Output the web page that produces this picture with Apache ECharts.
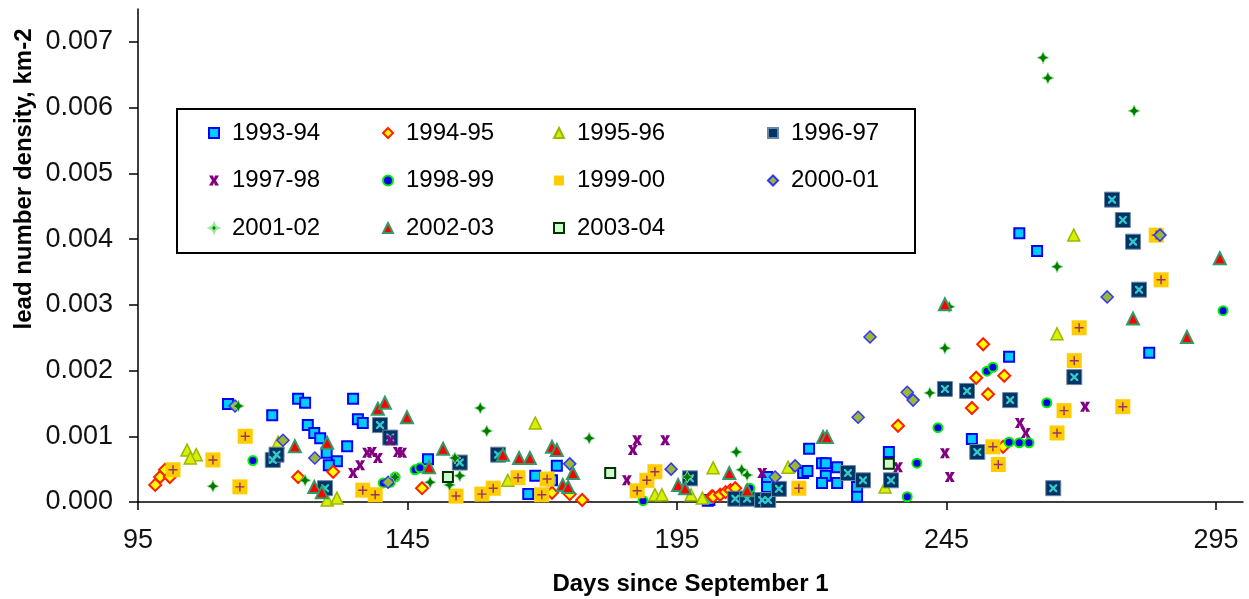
<!DOCTYPE html>
<html>
<head>
<meta charset="utf-8">
<script src="https://cdn.jsdelivr.net/npm/echarts@6/dist/echarts.min.js"></script>
<style>
html,body{margin:0;padding:0;background:#fff;}
#chart{width:1249px;height:599px;}
</style>
</head>
<body>
<div id="chart"></div>
<script>
// ---- data (x = days since September 1, y = lead number density, km-2) ----
const xTicks = [95, 145, 195, 245, 295];
const yTicks = [0, 0.001, 0.002, 0.003, 0.004, 0.005, 0.006, 0.007];
const seasons = ['1993-94','1994-95','1995-96','1996-97','1997-98','1998-99','1999-00','2000-01','2001-02','2002-03','2003-04'];

const s1993_94 = [[111.7,0.00149],[119.9,0.00132],[124.7,0.00157],[126.0,0.00151],[126.5,0.00117],[127.7,0.00105],[128.8,0.00097],[130.0,0.00075],[131.9,0.00062],[130.4,0.00056],[134.9,0.00157],[135.8,0.00126],[136.7,0.00120],[133.8,0.00085],[148.8,0.00065],[172.7,0.00055],[168.7,0.00040],[167.4,0.00012],[171.8,0.00033],[200.7,0.00002],[219.5,0.00081],[211.7,0.00023],[211.7,0.00038],[218.4,0.00044],[219.2,0.00047],[221.9,0.00059],[222.6,0.00059],[224.7,0.00053],[222.6,0.00040],[221.9,0.00029],[224.7,0.00029],[228.4,0.00023],[228.4,0.00008],[234.3,0.00076],[201.0,0.00003],[256.6,0.00221],[249.7,0.00096],[282.6,0.00227],[258.5,0.00409],[261.8,0.00382]];
const s1994_95 = [[98.2,0.00026],[99.1,0.00038],[100.0,0.00049],[100.9,0.00038],[124.7,0.00038],[131.2,0.00046],[147.7,0.00021],[171.8,0.00014],[175.1,0.00012],[177.4,0.00003],[201.5,0.00009],[201.7,0.00008],[203.0,0.00011],[204.0,0.00015],[204.9,0.00018],[205.8,0.00021],[236.0,0.00116],[251.8,0.00240],[250.5,0.00189],[252.7,0.00164],[249.7,0.00143],[255.7,0.00192],[255.5,0.00084]];
const s1995_96 = [[104.1,0.00079],[105.8,0.00072],[104.7,0.00067],[121.0,0.00091],[130.1,0.00003],[131.9,0.00006],[168.7,0.00120],[163.6,0.00033],[190.9,0.00011],[192.2,0.00011],[201.7,0.00052],[199.7,0.00006],[197.6,0.00011],[215.6,0.00053],[233.6,0.00023],[265.5,0.00256],[268.6,0.00406]];
const s1996_97 = [[120.0,0.00064],[120.7,0.00072],[129.7,0.00021],[139.9,0.00117],[141.8,0.00098],[154.7,0.00060],[161.8,0.00072],[197.4,0.00036],[205.8,0.00005],[208.0,0.00005],[210.8,0.00003],[211.9,0.00003],[213.9,0.00020],[226.7,0.00044],[229.5,0.00033],[234.7,0.00033],[244.7,0.00172],[248.8,0.00169],[250.7,0.00076],[256.8,0.00155],[268.7,0.00190],[280.7,0.00323],[264.8,0.00021],[275.7,0.00460],[277.7,0.00429],[279.6,0.00396]];
const s1997_98 = [[137.5,0.00075],[138.4,0.00076],[136.2,0.00056],[134.9,0.00044],[139.5,0.00067],[143.2,0.00076],[144.0,0.00075],[141.8,0.00094],[187.6,0.00094],[186.8,0.00079],[192.8,0.00094],[185.7,0.00033],[210.8,0.00044],[236.0,0.00053],[244.7,0.00074],[245.6,0.00038],[258.6,0.00120],[259.7,0.00105],[270.7,0.00145]];
const s1998_99 = [[116.3,0.00063],[140.5,0.00029],[141.8,0.00030],[142.7,0.00038],[146.4,0.00049],[147.3,0.00052],[188.7,0.00002],[208.5,0.00021],[239.5,0.00059],[237.7,0.00008],[243.4,0.00113],[252.5,0.00199],[253.6,0.00205],[263.6,0.00151],[256.6,0.00091],[258.5,0.00090],[260.3,0.00090],[296.3,0.00291]];
const s1999_00 = [[101.5,0.00049],[108.9,0.00064],[114.9,0.00100],[113.9,0.00023],[136.7,0.00018],[139.0,0.00011],[154.0,0.00009],[158.8,0.00012],[160.9,0.00021],[165.5,0.00037],[170.9,0.00035],[169.9,0.00011],[187.6,0.00017],[190.9,0.00046],[189.4,0.00033],[217.6,0.00021],[269.6,0.00265],[268.7,0.00215],[266.8,0.00139],[265.5,0.00105],[253.6,0.00084],[254.6,0.00057],[277.7,0.00145],[284.8,0.00338],[283.9,0.00406]];
const s2000_01 = [[113.0,0.00146],[121.9,0.00094],[127.8,0.00067],[141.4,0.00030],[175.1,0.00058],[193.9,0.00050],[213.2,0.00038],[216.9,0.00055],[230.8,0.00251],[228.6,0.00129],[237.7,0.00167],[238.8,0.00155],[274.8,0.00312],[284.6,0.00406]];
const s2001_02 = [[113.6,0.00146],[108.9,0.00024],[126.0,0.00033],[142.7,0.00038],[158.5,0.00143],[159.7,0.00108],[153.8,0.00067],[154.7,0.00040],[149.2,0.00030],[152.8,0.00026],[178.7,0.00097],[196.9,0.00038],[206.0,0.00076],[207.0,0.00049],[208.0,0.00041],[244.7,0.00234],[241.9,0.00166],[245.5,0.00297],[265.5,0.00358],[262.9,0.00676],[263.8,0.00645],[279.8,0.00595]];
const s2002_03 = [[124.1,0.00085],[127.7,0.00023],[129.1,0.00015],[130.1,0.00090],[139.5,0.00142],[140.8,0.00151],[144.9,0.00129],[151.6,0.00081],[149.0,0.00053],[162.7,0.00072],[165.7,0.00067],[167.7,0.00067],[171.8,0.00084],[172.7,0.00079],[175.7,0.00044],[173.8,0.00026],[174.8,0.00023],[195.2,0.00026],[196.5,0.00021],[204.7,0.00044],[208.0,0.00018],[222.1,0.00099],[222.8,0.00099],[244.7,0.00301],[279.6,0.00279],[289.6,0.00251],[295.7,0.00371]];
const s2003_04 = [[152.5,0.00038],[182.6,0.00044],[234.3,0.00058]];

// ---- marker shapes ----
const STAR4 = 'path://M5,0 L6.6,3.4 L10,5 L6.6,6.6 L5,10 L3.4,6.6 L0,5 L3.4,3.4 Z';
const HOURGLASS = 'path://M0,0 L4,0 L5,3 L6,0 L10,0 L7,5 L10,10 L6,10 L5,7 L4,10 L0,10 L3,5 Z';
const XMARK = 'path://M0,0 L2,0 L5,3 L8,0 L10,0 L10,2 L7,5 L10,8 L10,10 L8,10 L5,7 L2,10 L0,10 L0,8 L3,5 L0,2 Z';
const PLUS = 'path://M4.2,0 L5.8,0 L5.8,4.2 L10,4.2 L10,5.8 L5.8,5.8 L5.8,10 L4.2,10 L4.2,5.8 L0,5.8 L0,4.2 L4.2,4.2 Z';

function sc(name, data, symbol, size, fill, border, bw, extra) {
  return Object.assign({
    name: name, type: 'scatter', data: data, symbol: symbol, symbolSize: size,
    itemStyle: { color: fill, borderColor: border || fill, borderWidth: bw || 0, opacity: 1 },
    emphasis: { disabled: true }
  }, extra || {});
}

const series = [
  sc(seasons[0], s1993_94, 'rect', 10, '#00CCFF', '#0000FF', 2),
  sc(seasons[1], s1994_95, 'diamond', 12, '#FFFF00', '#FF2000', 2),
  sc(seasons[2], s1995_96, 'triangle', 12, '#D8F000', '#99B800', 1.5),
  sc(seasons[3], s1996_97, 'rect', 15, '#003366', '#6B86A3', 1),
  sc('o1', s1996_97, XMARK, 8, '#33CCCC', null, 0, { silent: true }),
  sc(seasons[4], s1997_98, HOURGLASS, 10, '#800080', null, 0),
  sc(seasons[5], s1998_99, 'circle', 9, '#0000EE', '#00EE00', 2),
  sc(seasons[6], s1999_00, 'rect', 15, '#FFCC00', null, 0),
  sc('o2', s1999_00, PLUS, 9, '#993366', null, 0, { silent: true }),
  sc(seasons[7], s2000_01, 'diamond', 12, '#99B833', '#3333FF', 1.5),
  sc(seasons[8], s2001_02, STAR4, 12, '#007A00', '#9CEB9C', 0.8),
  sc(seasons[9], s2002_03, 'triangle', 12, '#FF0000', '#339966', 2),
  sc(seasons[10], s2003_04, 'rect', 10, '#CCFFCC', '#003300', 2)
];

const legendText = { fontFamily: 'Liberation Sans, Arial, sans-serif', fontSize: 24, lineHeight: 24, color: '#000', padding: [0, 0, 0, 8] };
function lg(left, names) {
  return { orient: 'vertical', left: left, top: 121, padding: 0, itemGap: 23.5, itemWidth: 10, itemHeight: 10,
           selectedMode: false, data: names, textStyle: legendText };
}

const option = {
  animation: false,
  backgroundColor: '#fff',
  grid: { left: 138, right: 6, top: 9, bottom: 97, containLabel: false, outerBoundsMode: 'none' },
  xAxis: {
    type: 'value', min: 95, max: 300,
    name: 'Days since September 1', nameLocation: 'middle', nameGap: 70,
    nameTextStyle: { fontFamily: 'Liberation Sans, Arial, sans-serif', fontSize: 24, fontWeight: 'bold', color: '#000' },
    axisLine: { show: true, onZero: false, lineStyle: { color: '#000', width: 1.5 } },
    axisTick: { show: true, length: 8, customValues: xTicks, lineStyle: { color: '#000', width: 1.5 } },
    axisLabel: { customValues: xTicks, margin: 25, fontFamily: 'Liberation Sans, Arial, sans-serif', fontSize: 27, color: '#111' },
    splitLine: { show: false }
  },
  yAxis: {
    type: 'value', min: 0, max: 0.0075,
    axisLine: { show: true, onZero: false, lineStyle: { color: '#000', width: 1.5 } },
    axisTick: { show: true, length: 9, customValues: yTicks, lineStyle: { color: '#000', width: 1.5 } },
    axisLabel: { customValues: yTicks, margin: 25, fontFamily: 'Liberation Sans, Arial, sans-serif', fontSize: 27, color: '#111',
                 formatter: v => v.toFixed(3) },
    splitLine: { show: false }
  },
  legend: [
    lg(208, [seasons[0], seasons[4], seasons[8]]),
    lg(382, [seasons[1], seasons[5], seasons[9]]),
    lg(553, [seasons[2], seasons[6], seasons[10]]),
    lg(767, [seasons[3], seasons[7]])
  ],
  graphic: [
    { type: 'rect', shape: { x: 177, y: 109, width: 738, height: 144 }, style: { fill: 'none', stroke: '#000', lineWidth: 2 }, z: 100 },
    { type: 'text', x: 24, y: 179, rotation: Math.PI / 2,
      style: { text: 'lead number density, km-2', fontFamily: 'Liberation Sans, Arial, sans-serif', fontSize: 24, fontWeight: 'bold',
               fill: '#000', align: 'center', verticalAlign: 'middle' } }
  ],
  series: series
};

const chart = echarts.init(document.getElementById('chart'), null, { renderer: 'canvas' });
chart.setOption(option);
</script>
</body>
</html>
